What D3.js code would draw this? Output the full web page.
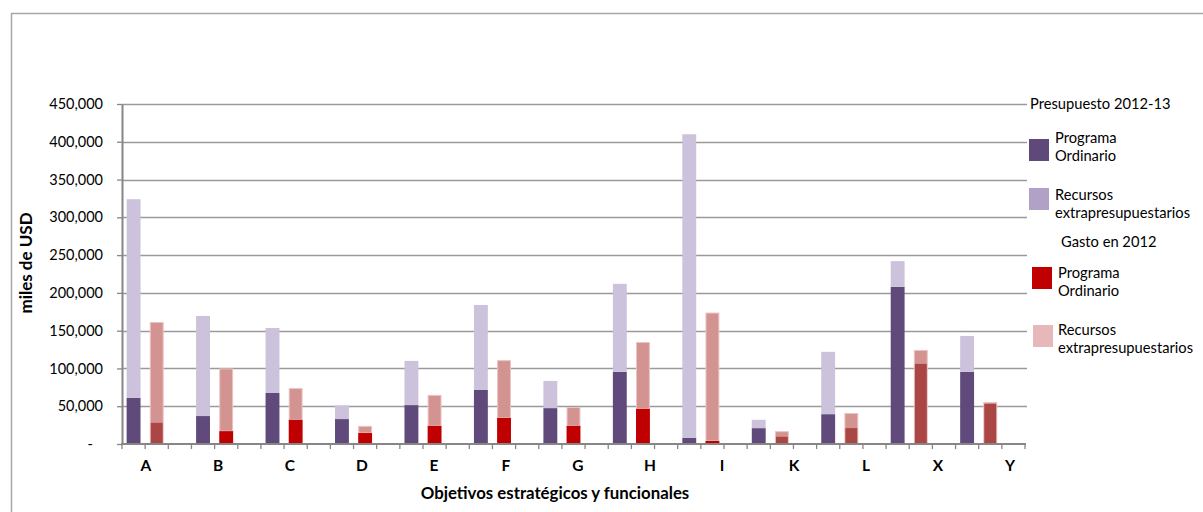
<!DOCTYPE html>
<html>
<head>
<meta charset="utf-8">
<script src="https://cdn.jsdelivr.net/npm/d3@7"></script>
<style>
  body { margin: 0; background: #fff; }
  svg { display: block; font-family: Lato, "Open Sans", sans-serif; }
</style>
</head>
<body>
<div id="container"></div>
<script>
/* CONSTANTS AND GLOBALS */
const width = 1203,
  height = 512,
  margin = { top: 104, bottom: 68, left: 122, right: 178 };

/* DATA (miles de USD) */
const categories = ["A", "B", "C", "D", "E", "F", "G", "H", "I", "K", "L", "X", "Y"];
// Presupuesto 2012-13
const presupuestoOrdinario = [61000, 37000, 67500, 33000, 51500, 71500, 47500, 95500, 8000, 21000, 39500, 208000, 95500];
const presupuestoExtra = [263000, 132500, 86000, 18000, 58500, 112500, 36000, 116500, 402000, 11000, 82500, 34000, 47500];
// Gasto en 2012
const gastoOrdinario = [28000, 17000, 32000, 14500, 24000, 34500, 24000, 46500, 4000, 9500, 21000, 106000, 53000];
const gastoExtra = [133500, 83000, 42000, 9500, 41000, 76500, 25000, 88500, 170000, 7500, 20000, 18500, 2500];
// categories where the extrabudgetary spending bar sits over the regular one
const gastoSolapado = ["A", "K", "L", "X", "Y"];
const yTicks = [0, 50000, 100000, 150000, 200000, 250000, 300000, 350000, 400000, 450000];
const slots = ["presupuesto", "gasto", "vacio"];

const data = categories.map((c, i) => ({
  cat: c,
  pPO: presupuestoOrdinario[i],
  pEx: presupuestoExtra[i],
  gPO: gastoOrdinario[i],
  gEx: gastoExtra[i],
  solapado: gastoSolapado.includes(c)
}));

/* SCALES */
const xScale = d3.scaleBand()
  .domain(categories)
  .range([margin.left, width - margin.right]);

const xSub = d3.scaleBand()
  .domain(slots)
  .range([0, xScale.bandwidth()])
  .paddingInner(0.4)
  .paddingOuter(0.2);

const yScale = d3.scaleLinear()
  .domain([0, 450000])
  .range([height - margin.bottom, margin.top]);

// the category labels drift a little to the right of their groups in the original
const labelScale = d3.scalePoint()
  .domain(categories)
  .range([margin.left + 24, width - margin.right - 15]);

/* SVG */
const svg = d3.select("#container")
  .append("svg")
  .attr("width", width)
  .attr("height", height);

// chart frame
svg.append("path")
  .attr("d", `M11.5,${height} V13.5 H${width}`)
  .attr("fill", "none")
  .attr("stroke", "#a6a6a6")
  .attr("stroke-width", 1.5);

// gridlines
svg.append("g")
  .selectAll("line")
  .data(yTicks.slice(1))
  .join("line")
  .attr("x1", margin.left)
  .attr("x2", width - margin.right + 2)
  .attr("y1", d => Math.round(yScale(d)) + 0.5)
  .attr("y2", d => Math.round(yScale(d)) + 0.5)
  .attr("stroke", "#9a9a9a")
  .attr("stroke-width", 1.3);

/* BARS */
const groups = svg.append("g")
  .selectAll("g")
  .data(data)
  .join("g")
  .attr("transform", d => `translate(${xScale(d.cat)},0)`);

const bw = xSub.bandwidth();

// presupuesto: programa ordinario
groups.append("rect")
  .attr("x", xSub("presupuesto"))
  .attr("width", bw)
  .attr("y", d => yScale(d.pPO))
  .attr("height", d => yScale(0) - yScale(d.pPO))
  .attr("fill", "#604a7b");

// presupuesto: recursos extrapresupuestarios
groups.append("rect")
  .attr("x", xSub("presupuesto"))
  .attr("width", bw)
  .attr("y", d => yScale(d.pPO + d.pEx))
  .attr("height", d => yScale(d.pPO) - yScale(d.pPO + d.pEx))
  .attr("fill", "#ccc2dc");

// gasto: recursos extrapresupuestarios
groups.append("rect")
  .attr("x", xSub("gasto") + 0.5)
  .attr("width", bw - 1)
  .attr("y", d => yScale(d.gPO + d.gEx) + 0.5)
  .attr("height", d => (d.solapado ? yScale(0) : yScale(d.gPO)) - yScale(d.gPO + d.gEx) - 0.5)
  .attr("fill", "#d39391")
  .attr("stroke", "#ebc3c2")
  .attr("stroke-width", 1);

// gasto: programa ordinario
groups.append("rect")
  .attr("x", d => xSub("gasto") + (d.solapado ? 1 : 0))
  .attr("width", d => d.solapado ? bw - 2 : bw)
  .attr("y", d => yScale(d.gPO))
  .attr("height", d => yScale(0) - yScale(d.gPO))
  .attr("fill", d => d.solapado ? "#aa4644" : "#c00000");

/* AXES */
const yAxis = d3.axisLeft(yScale)
  .tickValues(yTicks)
  .tickSize(5)
  .tickSizeOuter(0)
  .tickFormat(d => d === 0 ? "-" : d3.format(",")(d));

const yG = svg.append("g")
  .attr("transform", `translate(${margin.left},0)`)
  .call(yAxis);
yG.select(".domain").attr("stroke", "#868686").attr("stroke-width", 2);
yG.selectAll(".tick line").attr("stroke", "#868686").attr("stroke-width", 1.3);
yG.selectAll(".tick text")
  .attr("x", d => d === 0 ? -29 : -19)
  .attr("fill", "#000")
  .style("font-size", "14.5px")
  .style("font-family", "Lato, sans-serif");

// x axis: one tick at every slot boundary
const slotEdges = [];
categories.forEach(c => {
  slots.forEach((s, i) => slotEdges.push(xScale(c) + i * xScale.step() / slots.length));
});
slotEdges.push(width - margin.right);

const xG = svg.append("g");
xG.selectAll("line")
  .data(slotEdges)
  .join("line")
  .attr("x1", d => d)
  .attr("x2", d => d)
  .attr("y1", yScale(0))
  .attr("y2", yScale(0) + 5)
  .attr("stroke", "#868686")
  .attr("stroke-width", 1.3);
xG.append("line")
  .attr("x1", margin.left - 1)
  .attr("x2", width - margin.right + 1)
  .attr("y1", yScale(0))
  .attr("y2", yScale(0))
  .attr("stroke", "#868686")
  .attr("stroke-width", 2);

xG.selectAll("text")
  .data(categories)
  .join("text")
  .attr("x", d => labelScale(d))
  .attr("y", yScale(0) + 27)
  .attr("text-anchor", "middle")
  .attr("font-size", 15.5)
  .attr("font-weight", "bold")
  .text(d => d);

// axis titles
svg.append("text")
  .attr("x", 555)
  .attr("y", 499)
  .attr("text-anchor", "middle")
  .attr("font-size", 16.8)
  .attr("font-weight", "bold")
  .text("Objetivos estratégicos y funcionales");

svg.append("text")
  .attr("transform", "translate(32,263) rotate(-90)")
  .attr("text-anchor", "middle")
  .attr("font-size", 17)
  .attr("font-weight", "bold")
  .text("miles de USD");

/* LEGEND */
const legend = svg.append("g").attr("font-size", 14.7).attr("fill", "#000");

legend.append("text").attr("x", 1030).attr("y", 109).text("Presupuesto 2012-13");
legend.append("text").attr("x", 1061).attr("y", 247).text("Gasto  en 2012");

const legendItems = [
  { color: "#5f497a", x: 1029, y: 139, lines: ["Programa", "Ordinario"], tx: 1055, ty: 143 },
  { color: "#b2a1c7", x: 1029, y: 188, lines: ["Recursos", "extrapresupuestarios"], tx: 1055, ty: 200 },
  { color: "#c00000", x: 1032, y: 267, lines: ["Programa", "Ordinario"], tx: 1058, ty: 278 },
  { color: "#e6b9b8", x: 1033, y: 325, lines: ["Recursos", "extrapresupuestarios"], tx: 1058, ty: 335 }
];

legendItems.forEach(item => {
  legend.append("rect")
    .attr("x", item.x)
    .attr("y", item.y)
    .attr("width", 20)
    .attr("height", 22)
    .attr("fill", item.color);
  const t = legend.append("text").attr("x", item.tx).attr("y", item.ty);
  item.lines.forEach((l, i) => {
    t.append("tspan").attr("x", item.tx).attr("dy", i === 0 ? 0 : 17.5).text(l);
  });
});
</script>
</body>
</html>
